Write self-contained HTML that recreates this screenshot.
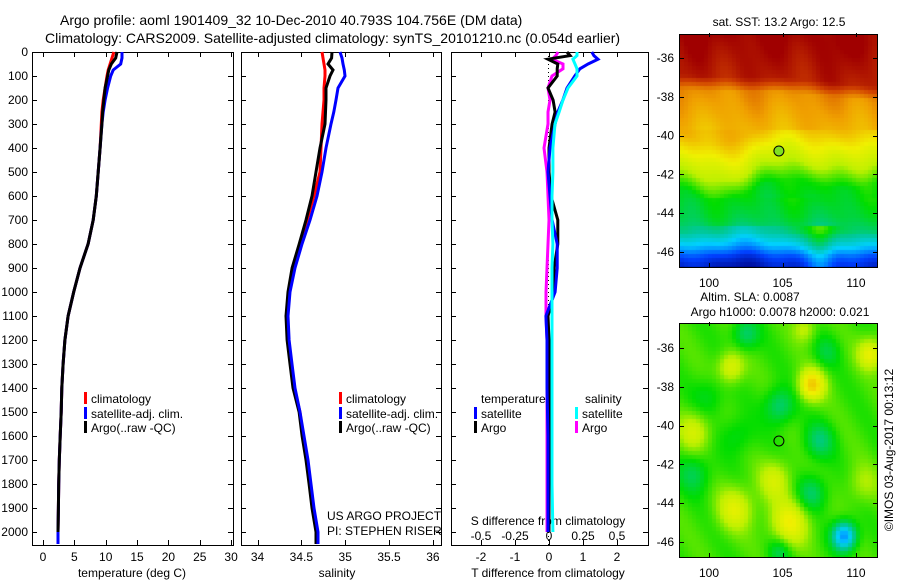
<!DOCTYPE html>
<html><head><meta charset="utf-8">
<style>
html,body{margin:0;padding:0;background:#fff;}
#wrap{position:relative;width:900px;height:580px;overflow:hidden;font-family:"Liberation Sans",sans-serif;}
svg text{font-family:"Liberation Sans",sans-serif;font-size:12px;fill:#000;}
canvas{position:absolute;}
</style></head>
<body>
<div id="wrap">
<canvas id="sst" width="198" height="233" style="left:680px;top:34px"></canvas>
<canvas id="sla" width="198" height="234" style="left:680px;top:323px"></canvas>
<svg id="svg" width="900" height="580" style="position:absolute;left:0;top:0"></svg>
</div>
<script>
// ---- data ----
const depthT = [0,25,50,75,100,150,200,250,300,400,500,600,700,800,900,1000,1100,1200,1300,1400,1500,1600,1700,1800,1900,2000,2050];
const tempClim = [11.3,11.0,10.7,10.4,10.2,9.9,9.6,9.4,9.3,9.1,8.8,8.5,8.0,7.2,5.9,4.9,4.0,3.5,3.2,3.0,2.9,2.75,2.6,2.5,2.45,2.4,2.4];
const tempSat  = [12.6,12.6,12.4,11.2,10.8,10.3,9.9,9.6,9.4,9.1,8.8,8.5,8.0,7.2,5.9,4.9,4.0,3.5,3.2,3.0,2.9,2.75,2.6,2.5,2.45,2.4,2.4];
const tempArgo = [11.8,11.6,10.9,10.5,10.3,9.9,9.7,9.5,9.4,9.1,8.8,8.5,8.0,7.2,5.9,4.9,4.0,3.5,3.2,3.0,2.9,2.75,2.6,2.5,2.45,2.4,2.4];
const salClim = [34.735,34.747,34.758,34.770,34.770,34.758,34.758,34.747,34.735,34.724,34.713,34.644,34.564,34.485,34.405,34.359,34.336,34.348,34.382,34.416,34.485,34.519,34.564,34.599,34.633,34.678,34.690];
const salSat  = [34.941,34.963,34.975,34.990,34.998,34.918,34.895,34.870,34.838,34.781,34.735,34.678,34.599,34.507,34.428,34.371,34.348,34.360,34.393,34.428,34.485,34.530,34.576,34.610,34.644,34.690,34.690];
const salArgo = [34.849,34.845,34.804,34.861,34.827,34.781,34.781,34.775,34.770,34.713,34.667,34.621,34.553,34.475,34.395,34.348,34.325,34.337,34.371,34.405,34.474,34.508,34.553,34.588,34.622,34.667,34.667];
const depthD = [0,15,30,50,70,100,150,200,250,300,400,500,600,700,800,900,1000,1100,1200,1400,1600,1800,2000];
const dTsat  = [1.26,1.32,1.44,1.15,0.91,0.76,0.53,0.41,0.26,0.18,0.03,-0.03,0.03,0.09,0.24,0.24,0.18,-0.09,-0.06,-0.06,-0.03,-0.03,-0.03];
const dSsat  = [0.206,0.206,0.176,0.191,0.206,0.206,0.140,0.103,0.074,0.044,0.029,0.029,0.022,0.022,0.029,0.022,0.022,0.022,0.022,0.022,0.022,0.022,0.029];
const dTargo = [0.53,0.62,-0.03,0.26,0.24,0.24,-0.03,0.12,0.18,0.09,0,0,0.06,0.26,0.26,0.15,0.15,-0.03,0,0,0,0,0];
const dSargo = [0.066,0.051,0.022,0.103,0.103,0.022,-0.007,0.007,-0.007,-0.007,-0.037,-0.015,-0.007,0,-0.007,-0.015,-0.022,-0.022,-0.015,-0.015,-0.015,-0.015,-0.015];
const depthTicks = [0,100,200,300,400,500,600,700,800,900,1000,1100,1200,1300,1400,1500,1600,1700,1800,1900,2000];
const tempTicks = [0,5,10,15,20,25,30];
const salTicks = [34,34.5,35,35.5,36];
const salTickLabels = ["34","34.5","35","35.5","36"];
const dTTicks = [-2,-1,0,1,2];
const dSTicks = [-0.5,-0.25,0,0.25,0.5];
const latTicks = [-36,-38,-40,-42,-44,-46];
const lonTicks = [100,105,110];

// ---- axis functions ----
const yD = d => 52 + d*0.24;
const xT = t => 43 + t*6.27;
const xS = s => 257.5 + (s-34)*87.7;
const xDT = v => 549 + v*34;
const xDS = v => 549 + v*136;
const xLon = l => 709 + (l-100)*14.7;
const yLat1 = l => 58 + (-36-l)*19.4;
const yLat2 = l => 348 + (-36-l)*19.4;

const NS="http://www.w3.org/2000/svg";
const svg=document.getElementById('svg');
function mk(tag,attrs,parent){const e=document.createElementNS(NS,tag);for(const k in attrs)e.setAttribute(k,attrs[k]);(parent||svg).appendChild(e);return e;}
function txt(x,y,s,anchor,size){const e=mk('text',{x:x,y:y,'text-anchor':anchor||'start'});if(size)e.style.fontSize=size+'px';e.textContent=s;return e;}

let t1=txt(60,25,'Argo profile: aoml 1901409_32 10-Dec-2010 40.793S 104.756E (DM data)','start',14);


let t2=txt(45,43,'Climatology: CARS2009. Satellite-adjusted climatology: synTS_20101210.nc (0.054d earlier)','start',14);



const panels=[[32,233,'temperature-panel'],[241,441,'salinity-panel'],[451,648,'difference-panel']];
panels.forEach(p=>{
  const r=mk('rect',{x:p[0]+0.5,y:52.5,width:p[1]-p[0],height:493,fill:'none',stroke:'#000','stroke-width':1});
  
  
  depthTicks.forEach(d=>{
    const y=Math.round(yD(d))+0.5;
    mk('line',{x1:p[0],x2:p[0]+5,y1:y,y2:y,stroke:'#000'});
    mk('line',{x1:p[1]-5,x2:p[1],y1:y,y2:y,stroke:'#000'});
  });
});
depthTicks.forEach(d=>{
  const e=txt(28,yD(d)+4,String(d),'end');
  
  
});
function xticks(ticks,fx,labels,y){
  ticks.forEach((v,i)=>{
    const x=Math.round(fx(v))+0.5;
    mk('line',{x1:x,x2:x,y1:52,y2:57,stroke:'#000'});
    mk('line',{x1:x,x2:x,y1:540,y2:545,stroke:'#000'});
    const e=txt(fx(v),y,labels?labels[i]:String(v),'middle');
    
    
  });
}
xticks(tempTicks,xT,null,561);
xticks(salTicks,xS,salTickLabels,561);
xticks(dTTicks,xDT,null,561);
dSTicks.forEach(v=>{
  const e=txt(xDS(v),540,String(v),'middle');
  
  
});
[['temperature (deg C)',132,'x-axis-title-temperature'],['salinity',337,'x-axis-title-salinity'],['T difference from climatology',548,'x-axis-title-t-diff']].forEach(a=>{
  const e=txt(a[1],577,a[0],'middle');
  
  
});
let sd=txt(548,525,'S difference from climatology','middle');


const zl=mk('line',{x1:548.5,x2:548.5,y1:52,y2:545,stroke:'#000','stroke-dasharray':'1,3'});



function series(depths,vals,fx,color,name){
  const pts=depths.map((d,i)=>fx(vals[i]).toFixed(1)+','+yD(d).toFixed(1)).join(' ');
  const e=mk('polyline',{points:pts,fill:'none',stroke:color,'stroke-width':3,'stroke-linejoin':'miter'});
  
  
}
series(depthT,tempClim,xT,'#ff0000','temp-climatology-line');
series(depthT,tempSat,xT,'#0000ff','temp-satellite-line');
series(depthT.slice(0,26),tempArgo.slice(0,26),xT,'#000000','temp-argo-line');
series(depthT,salClim,xS,'#ff0000','sal-climatology-line');
series(depthT,salArgo,xS,'#000000','sal-argo-line');
series(depthT,salSat,xS,'#0000ff','sal-satellite-line');
series(depthD,dSargo,xDS,'#ff00ff','s-diff-argo-line');
series(depthD,dTargo,xDT,'#000000','t-diff-argo-line');
series(depthD,dTsat,xDT,'#0000ff','t-diff-satellite-line');
series(depthD,dSsat,xDS,'#00ffff','s-diff-satellite-line');

function legend(x,y,color,label){
  const r=mk('rect',{x:x,y:y-11,width:3,height:12,fill:color});
  
  
  const e=txt(x+7,y,label);
  
  
}
legend(84,403,'#ff0000','climatology');legend(84,418,'#0000ff','satellite-adj. clim.');legend(84,432,'#000000','Argo(..raw -QC)');
legend(339,403,'#ff0000','climatology');legend(339,418,'#0000ff','satellite-adj. clim.');legend(339,432,'#000000','Argo(..raw -QC)');
let lt=txt(481,403,'temperature');
let ls=txt(585,403,'salinity');
legend(474,418,'#0000ff','satellite');legend(474,432,'#000000','Argo');
legend(575,418,'#00ffff','satellite');legend(575,432,'#ff00ff','Argo');
let u1=txt(327,520,'US ARGO PROJECT');
let u2=txt(327,535,'PI: STEPHEN RISER');

function mapFrame(top,bottom,yl,name){
  const r=mk('rect',{x:679.5,y:top+0.5,width:198,height:bottom-top,fill:'none',stroke:'#000'});
  
  
  latTicks.forEach(l=>{
    const y=Math.round(yl(l))+0.5;
    mk('line',{x1:680,x2:684,y1:y,y2:y,stroke:'#000'});
    mk('line',{x1:873,x2:878,y1:y,y2:y,stroke:'#000'});
    const e=txt(674,yl(l)+4,String(l),'end');
    
    
  });
  lonTicks.forEach(l=>{
    const x=Math.round(xLon(l))+0.5;
    mk('line',{x1:x,x2:x,y1:top-1,y2:top+3,stroke:'#000'});
    mk('line',{x1:x,x2:x,y1:bottom-4,y2:bottom,stroke:'#000'});
    const e=txt(xLon(l),bottom+20,String(l),'middle');
    
    
  });
}
mapFrame(34,267,yLat1,'sst-map-frame');
mapFrame(323,557,yLat2,'sla-map-frame');
let m1=txt(779,26,'sat. SST: 13.2 Argo: 12.5','middle');
let m2=txt(750,301,'Altim. SLA: 0.0087','middle');
let m3=txt(780,316,'Argo h1000: 0.0078 h2000: 0.021','middle');
const c1=mk('circle',{cx:xLon(104.756),cy:yLat1(-40.793),r:5,fill:'#80e020',stroke:'#000'});

const c2=mk('circle',{cx:xLon(104.756),cy:yLat2(-40.793),r:5,fill:'none',stroke:'#000'});

const cp=mk('text',{x:0,y:0,transform:'translate(893,450) rotate(-90)','text-anchor':'middle'});
cp.textContent='©IMOS 03-Aug-2017 00:13:12';


// ---- maps (raster images) ----
const cmStops=[0,0.15,0.3,0.4,0.5,0.6,0.68,0.8,0.9,1.0];
const cmCols=[[0,0,128],[0,64,255],[0,208,255],[0,200,150],[0,221,0],[190,240,0],[240,240,0],[240,160,0],[210,70,0],[160,0,0]];
function cmap(v){v=Math.max(0,Math.min(1,v));for(let i=0;i<cmStops.length-1;i++){if(v<=cmStops[i+1]){const t=(v-cmStops[i])/(cmStops[i+1]-cmStops[i]);return cmCols[i].map((c,k)=>Math.round(c+t*(cmCols[i+1][k]-c)));}}return cmCols[cmCols.length-1];}
function interp(xs,ys,x){if(x<=xs[0])return ys[0];for(let i=0;i<xs.length-1;i++){if(x<=xs[i+1]){const t=(x-xs[i])/(xs[i+1]-xs[i]);return ys[i]+t*(ys[i+1]-ys[i]);}}return ys[ys.length-1];}
const sst=document.getElementById('sst').getContext('2d');
const cell=4;
for(let y=0;y<233;y+=cell)for(let x=0;x<198;x+=cell){
  const f=y/233,g=x/198;
  let ff=f;
  if(f<0.4) ff=f-0.08*Math.max(0,g-0.5)+0.04*Math.max(0,0.3-g);
  else if(f<0.7) ff=f+0.12*Math.max(0,g-0.5)-0.04*Math.sin(g*9);
  let b=interp([0,0.18,0.24,0.42,0.5,0.58,0.66,0.78,0.84,0.9,0.95,1],[1.0,0.96,0.82,0.76,0.67,0.6,0.5,0.46,0.42,0.3,0.16,0.08],ff);
  b+=0.015*Math.sin(g*17+f*6)+0.012*Math.sin(g*31-f*13);
  if(f>0.82) b+=0.14*Math.exp(-Math.pow((g-0.7)/0.07,2)) - 0.05*Math.exp(-Math.pow((g-0.3)/0.2,2));
  const c=cmap(b);sst.fillStyle='rgb('+c.join(',')+')';sst.fillRect(x,y,cell,cell);
}
const blobs=[[102.5,-35.3,-0.1,0.8],[104.8,-39,-0.11,0.9],[107.5,-40.8,-0.1,0.9],[107,-43.5,-0.1,0.9],[99,-42.5,-0.08,1.0],[109.2,-45.7,-0.3,0.7],[104.8,-46.5,-0.08,0.7],[107,-37.9,0.2,0.8],[101.5,-37,0.12,0.8],[99,-40.3,0.1,1.0],[101.8,-44.3,0.12,1.1],[105.5,-45,0.14,1.2],[111,-36.3,0.14,0.8],[110.5,-43,0.06,1.0],[104.5,-42.8,0.1,1.0],[106.5,-35,0.08,0.7],[108,-36.2,-0.06,0.8],[100,-38.5,-0.05,1.0],[102,-40.5,-0.05,1.0]];
const sla=document.getElementById('sla').getContext('2d');
for(let y=0;y<234;y+=cell)for(let x=0;x<198;x+=cell){
  const lon=100+(680+x+2-709)/14.7, lat=-36-(323+y+2-348)/19.4;
  let v=0.53;
  blobs.forEach(bb=>{const d2=((lon-bb[0])**2)/(bb[3]*bb[3]*1.2)+((lat-bb[1])**2)/(bb[3]*bb[3]);v+=bb[2]*Math.exp(-d2);});
  v+=0.015*Math.sin(lon*1.7+lat*1.3);
  const c=cmap(v);sla.fillStyle='rgb('+c.join(',')+')';sla.fillRect(x,y,cell,cell);
}
</script>
</body></html>
